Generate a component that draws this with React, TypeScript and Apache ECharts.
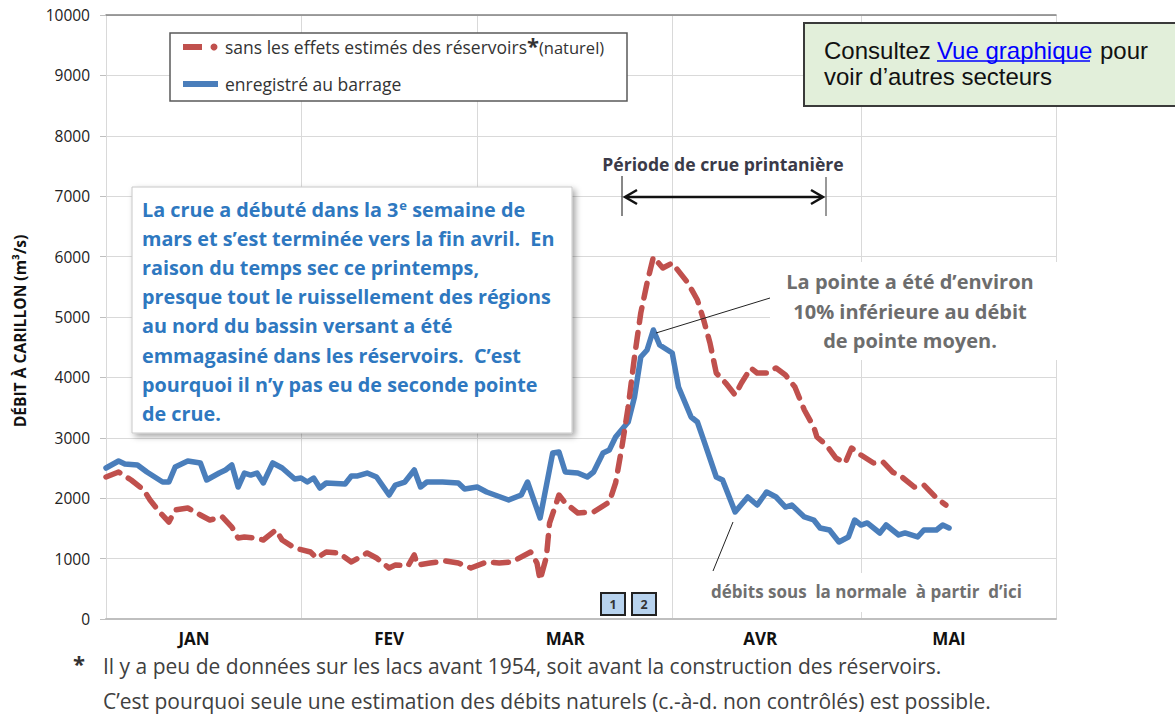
import React, { useEffect, useRef } from "react";
import * as echarts from "echarts";

// ---- data (day index from 1 January) ----
const monthLabels = ["JAN", "FEV", "MAR", "AVR", "MAI"];
const monthMidDays = [14, 45, 73, 104, 134];
const monthStartDays = [0, 31, 59, 90, 120, 151];

const recordedDays = [0,2,3,5,6.5,9,10,11,13,15,16,18,19,20,21,22,23,24,25,26.5,28,30,31,32,33,34,35,38,39,40,41.5,43,45,46,47.5,49,50,51,53.5,56,57,59,60.5,64,66,67,69,71,72,73,75,76.5,77.5,79,80,81,83,84,85,86,87,88,90,91,93,94,95,97,98,100,102,103.5,105,106.5,108,109,111,112.5,113.5,115,116.5,118,119,120,121,123,124,126,127,129,130,132,133,134];
const recordedFlow = [2500,2616,2566,2550,2434,2268,2268,2517,2616,2583,2301,2417,2467,2550,2185,2417,2384,2417,2252,2583,2500,2318,2334,2268,2334,2169,2252,2235,2368,2368,2417,2351,2053,2218,2268,2467,2185,2268,2268,2252,2152,2185,2103,1970,2053,2268,1672,2748,2765,2434,2417,2351,2434,2748,2798,3013,3262,3675,4338,4454,4785,4536,4404,3841,3344,3262,2963,2351,2301,1772,2020,1887,2103,2020,1854,1887,1689,1639,1507,1474,1275,1358,1639,1556,1590,1424,1556,1391,1424,1358,1474,1474,1556,1507];

const naturalDays = [0,2,4,6,7,8.5,10,11,13,15,16.5,18.5,20,21,22,23.5,25,27,28,30,32.5,33.5,35,37,39,41.5,43,45,46,48,49,49.5,51.5,54,56,58,60.5,62.5,64.5,67.5,68.5,69,70,70.5,72,73,75,77.5,80,81,82,83,84,85,86,87,88.5,90,92.5,94,95,96,97,98.5,100,101,102.5,103.5,105,106.5,108,109.5,111,112.5,113,114.5,116,117.5,118.5,120,122,123.5,125,126.5,128.5,130,132,133.5];
const naturalFlow = [2351,2434,2301,2136,1970,1772,1606,1805,1838,1722,1639,1689,1523,1341,1358,1341,1308,1474,1308,1175,1109,1010,1109,1093,944,1093,1010,844,894,877,1060,894,927,960,927,844,944,927,944,1109,927,646,1026,1589,2053,1920,1755,1772,1937,2252,2848,3510,4338,5066,5563,5993,5811,5894,5563,5281,4950,4570,4073,3907,3709,3907,4156,4073,4073,4156,4040,3841,3460,3179,3013,2881,2666,2583,2831,2715,2583,2600,2434,2351,2185,2218,2003,1887];

const legendNatural = "sans les effets estimés des réservoirs";
const legendRecorded = "enregistré au barrage";
const yAxisTitle = "DÉBIT À CARILLON (m³/s)";

const FONT = "'Open Sans', 'Noto Sans', sans-serif";
const ARIAL = "'Liberation Sans', Arial, sans-serif";
const BLUE = "#4a7ebb";
const RED = "#c0504d";
const NOTE_BLUE = "#2e78c0";

function txt(x: number, y: number, text: string, o: any = {}) {
  return {
    type: "text",
    x,
    y,
    z: o.z ?? 20,
    rotation: o.rotation ?? 0,
    style: {
      text,
      fill: o.fill ?? "#333",
      fontSize: o.fontSize ?? 15,
      fontWeight: o.fontWeight ?? "normal",
      fontFamily: o.fontFamily ?? FONT,
      align: o.align ?? "left",
      verticalAlign: o.verticalAlign ?? "middle",
      textAlign: o.align ?? "left",
      textVerticalAlign: o.verticalAlign ?? "middle",
      lineHeight: o.lineHeight,
      rich: o.rich,
    },
  };
}
function ln(x1: number, y1: number, x2: number, y2: number, stroke: string, lineWidth: number, z = 20) {
  return { type: "line", z, shape: { x1, y1, x2, y2 }, style: { stroke, lineWidth } };
}
function rc(x: number, y: number, w: number, h: number, style: any, z = 10) {
  return { type: "rect", z, shape: { x, y, width: w, height: h }, style };
}

export default function App() {
  const ref = useRef<HTMLDivElement>(null);
  useEffect(() => {
    const chart = echarts.init(ref.current!, null, { renderer: "svg" });
    const noteText =
      "La crue a débuté dans la 3{sup|e} semaine de\n" +
      "mars et s’est terminée vers la fin avril.  En\n" +
      "raison du temps sec ce printemps,\n" +
      "presque tout le ruissellement des régions\n" +
      "au nord du bassin versant a été\n" +
      "emmagasiné dans les réservoirs.  C’est\n" +
      "pourquoi il n’y pas eu de seconde pointe\n" +
      "de crue.";
    const option: any = {
      animation: false,
      backgroundColor: "#ffffff",
      grid: { left: 106, right: 119, top: 15, bottom: 98, containLabel: false },
      xAxis: [
        {
          type: "value",
          min: 0,
          max: 151,
          position: "bottom",
          axisLine: { show: true, lineStyle: { color: "#bfbfbf", width: 2 } },
          axisTick: { show: false, customValues: monthStartDays },
          splitLine: { show: true, lineStyle: { color: "#d9d9d9", width: 1 } },
          axisLabel: {
            customValues: monthMidDays,
            formatter: (v: number) => monthLabels[monthMidDays.indexOf(v)] ?? "",
            fontFamily: FONT,
            fontWeight: "bold",
            fontSize: 17,
            color: "#111",
            margin: 11,
          },
        },
        {
          type: "value",
          min: 0,
          max: 151,
          position: "top",
          axisLine: { show: true, lineStyle: { color: "#808080", width: 1.5 } },
          axisTick: { show: false },
          axisLabel: { show: false },
          splitLine: { show: false },
        },
      ],
      yAxis: {
        type: "value",
        min: 0,
        max: 10000,
        interval: 1000,
        axisLine: { show: true, lineStyle: { color: "#d9d9d9", width: 1 } },
        axisTick: { show: true, length: 6, lineStyle: { color: "#bfbfbf" } },
        splitLine: { show: true, lineStyle: { color: "#d9d9d9", width: 1 } },
        axisLabel: { fontFamily: FONT, fontSize: 15.5, color: "#222", margin: 16, formatter: (v: number) => String(v) },
      },
      series: [
        {
          name: legendRecorded,
          type: "line",
          showSymbol: false,
          data: recordedDays.map((d, i) => [d, recordedFlow[i]]),
          lineStyle: { color: BLUE, width: 5.5, cap: "round", join: "round" },
          itemStyle: { color: BLUE },
          z: 3,
        },
        {
          name: legendNatural,
          type: "line",
          showSymbol: false,
          data: naturalDays.map((d, i) => [d, naturalFlow[i]]),
          lineStyle: { color: RED, width: 5.5, type: [15, 10], cap: "round", join: "round" },
          itemStyle: { color: RED },
          z: 4,
        },
      ],
      graphic: [
        // y axis title
        txt(20, 331, yAxisTitle, { rotation: Math.PI / 2, align: "center", fontWeight: "bold", fontSize: 15.6, fill: "#111" }),
        // legend box
        rc(170, 33, 457, 68, { fill: "#fff", stroke: "#595959", lineWidth: 1.5 }),
        ln(183, 47, 202, 47, RED, 6, 21),
        { type: "circle", z: 21, shape: { cx: 214, cy: 47, r: 3.5 }, style: { fill: RED } },
        txt(225, 47, `{a|${legendNatural}}{s|*}{b|(naturel)}`, {
          rich: {
            a: { fontSize: 17.5, fill: "#333", fontFamily: FONT },
            s: { fontSize: 22, fontWeight: "bold", fill: "#333", fontFamily: FONT, padding: [0, 0, 4, 0] },
            b: { fontSize: 16.5, fill: "#333", fontFamily: FONT },
          },
        }),
        ln(183, 84, 218, 84, BLUE, 6, 21),
        txt(225, 84, legendRecorded, { fontSize: 17.5 }),
        // note box
        {
          type: "rect",
          z: 10,
          shape: { x: 132, y: 187, width: 440, height: 246 },
          style: { fill: "#fff", stroke: "#c8c8c8", lineWidth: 1, shadowBlur: 6, shadowOffsetX: 3, shadowOffsetY: 3, shadowColor: "rgba(0,0,0,0.35)" },
        },
        txt(142, 194.5, noteText, {
          verticalAlign: "top",
          fontWeight: "bold",
          fontSize: 19.8,
          fill: NOTE_BLUE,
          lineHeight: 29.2,
          rich: {
            sup: { fontSize: 13, fontWeight: "bold", fill: NOTE_BLUE, fontFamily: FONT, lineHeight: 29.2, padding: [0, 0, 9, 1] },
          },
        }),
        // top-right box
        rc(804, 23, 390, 83, { fill: "#e2efda", stroke: "#3a3a3a", lineWidth: 2 }),
        txt(824, 50, "Consultez", { fontFamily: ARIAL, fontSize: 24, fill: "#111" }),
        txt(937, 50, "Vue graphique", { fontFamily: ARIAL, fontSize: 24, fill: "#0000ff" }),
        ln(937, 61, 1090, 61, "#0000ff", 1.3),
        txt(1100, 50, "pour", { fontFamily: ARIAL, fontSize: 24, fill: "#111" }),
        txt(824, 76, "voir d’autres secteurs", { fontFamily: ARIAL, fontSize: 24, fill: "#111" }),
        // flood period
        txt(723, 164, "Période de crue printanière", { align: "center", fontWeight: "bold", fontSize: 17.6, fill: "#3a3a48" }),
        ln(622, 176, 622, 216, "#111", 1),
        ln(826, 177, 826, 216, "#555", 1.2),
        ln(626, 197, 822, 197, "#111", 2.5),
        { type: "polyline", z: 20, shape: { points: [[637, 190], [625, 197], [637, 204]] }, style: { stroke: "#111", lineWidth: 2.5, fill: null } },
        { type: "polyline", z: 20, shape: { points: [[811, 190], [823, 197], [811, 204]] }, style: { stroke: "#111", lineWidth: 2.5, fill: null } },
        // peak annotation
        rc(770, 262, 290, 98, { fill: "#fff" }, 9),
        txt(910, 311, "La pointe a été d’environ\n10% inférieure au débit\nde pointe moyen.", {
          align: "center", fontWeight: "bold", fontSize: 20, fill: "#6d6d6d", lineHeight: 29.3,
        }),
        ln(656, 333, 770, 298, "#222", 1),
        // below normal annotation
        rc(705, 573, 330, 39, { fill: "#fff" }, 9),
        txt(711, 591, "débits sous  la normale  à partir  d’ici", { fontWeight: "bold", fontSize: 17, fill: "#707070" }),
        ln(733, 522, 713, 571, "#222", 1),
        // week boxes
        rc(601, 593, 24, 22, { fill: "#b8d3ee", stroke: "#222", lineWidth: 2 }, 20),
        txt(613, 604, "1", { align: "center", fontWeight: "bold", fontSize: 12.5, fill: "#333", z: 21 }),
        rc(632, 593, 24, 22, { fill: "#b8d3ee", stroke: "#222", lineWidth: 2 }, 20),
        txt(644, 604, "2", { align: "center", fontWeight: "bold", fontSize: 12.5, fill: "#333", z: 21 }),
        // footnote
        txt(73, 663, "*", { fontWeight: "bold", fontSize: 22, fill: "#333" }),
        txt(103, 666, "Il y a peu de données sur les lacs avant 1954, soit avant la construction des réservoirs.", { fontSize: 21, fill: "#404040" }),
        txt(103, 701, "C’est pourquoi seule une estimation des débits naturels (c.-à-d. non contrôlés) est possible.", { fontSize: 21, fill: "#404040" }),
      ],
    };
    chart.setOption(option);
    return () => chart.dispose();
  }, []);
  return (
    <div
      ref={ref}
      style={{ position: "absolute", left: 0, top: 0, width: 1175, height: 717, background: "#fff" }}
    />
  );
}
